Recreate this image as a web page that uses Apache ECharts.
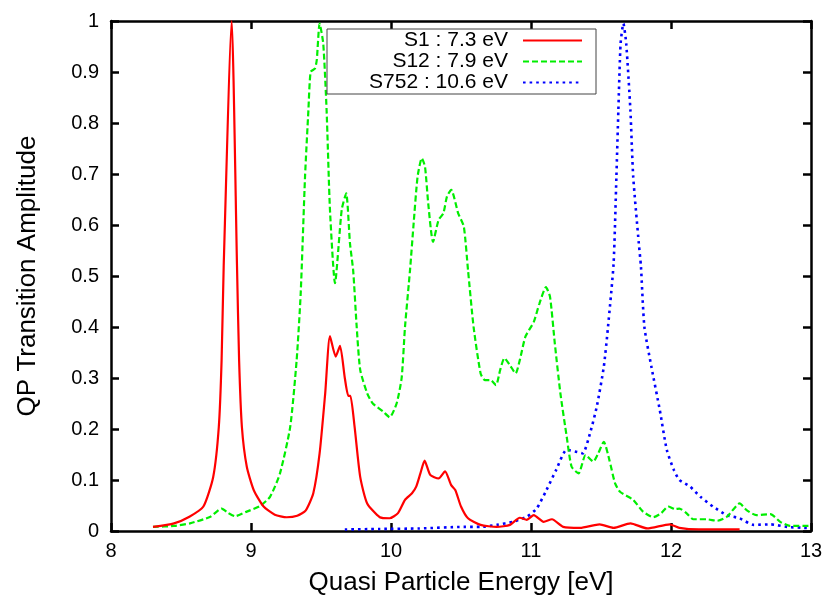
<!DOCTYPE html>
<html>
<head>
<meta charset="utf-8">
<script src="https://cdn.jsdelivr.net/npm/echarts@6/dist/echarts.min.js"></script>
<style>html,body{margin:0;padding:0;background:#fff}#c{width:827px;height:599px}</style>
</head>
<body>
<div id="c"></div>
<script>
const seriesNames = ['S1 : 7.3 eV', 'S12 : 7.9 eV', 'S752 : 10.6 eV'];
const xTicks = [8, 9, 10, 11, 12, 13];
const yTicks = [0, 0.1, 0.2, 0.3, 0.4, 0.5, 0.6, 0.7, 0.8, 0.9, 1];

const s1 = [[8.30,0.008],[8.45,0.015],[8.56,0.028],[8.66,0.048],[8.73,0.106],[8.77,0.204],[8.79,0.335],[8.805,0.52],[8.862,1.0],[8.90,0.52],[8.915,0.335],[8.935,0.204],[8.97,0.126],[9.02,0.08],[9.09,0.048],[9.17,0.032],[9.255,0.027],[9.33,0.03],[9.39,0.04],[9.445,0.074],[9.49,0.152],[9.53,0.27],[9.564,0.382],[9.605,0.342],[9.636,0.363],[9.67,0.30],[9.695,0.265],[9.71,0.265],[9.74,0.204],[9.78,0.106],[9.83,0.054],[9.92,0.027],[9.99,0.025],[10.05,0.035],[10.10,0.061],[10.15,0.074],[10.18,0.087],[10.21,0.113],[10.24,0.138],[10.28,0.11],[10.34,0.103],[10.386,0.117],[10.43,0.09],[10.46,0.08],[10.50,0.048],[10.55,0.025],[10.64,0.012],[10.755,0.008],[10.85,0.012],[10.92,0.026],[10.97,0.022],[11.02,0.031],[11.09,0.018],[11.15,0.023],[11.23,0.008],[11.35,0.006],[11.49,0.013],[11.59,0.006],[11.71,0.015],[11.83,0.005],[11.99,0.013],[12.06,0.006],[12.2,0.003],[12.49,0.003]];

const s12 = [[8.30,0.008],[8.45,0.01],[8.564,0.015],[8.71,0.028],[8.79,0.044],[8.84,0.035],[8.886,0.029],[8.97,0.038],[9.064,0.049],[9.136,0.067],[9.207,0.113],[9.28,0.204],[9.326,0.335],[9.355,0.466],[9.386,0.695],[9.41,0.825],[9.426,0.90],[9.457,0.907],[9.47,0.924],[9.49,0.995],[9.516,0.956],[9.54,0.825],[9.564,0.63],[9.60,0.486],[9.648,0.63],[9.68,0.662],[9.707,0.564],[9.73,0.51],[9.755,0.40],[9.78,0.316],[9.83,0.27],[9.87,0.25],[9.945,0.234],[9.99,0.223],[10.04,0.25],[10.076,0.30],[10.10,0.40],[10.136,0.512],[10.16,0.597],[10.19,0.695],[10.22,0.731],[10.243,0.714],[10.266,0.642],[10.30,0.567],[10.34,0.61],[10.374,0.623],[10.40,0.656],[10.43,0.669],[10.48,0.623],[10.52,0.597],[10.55,0.512],[10.59,0.40],[10.64,0.309],[10.67,0.296],[10.71,0.296],[10.75,0.286],[10.78,0.316],[10.81,0.339],[10.85,0.325],[10.89,0.309],[10.92,0.335],[10.96,0.381],[11.02,0.41],[11.06,0.446],[11.107,0.478],[11.136,0.459],[11.17,0.368],[11.21,0.27],[11.255,0.185],[11.29,0.126],[11.34,0.113],[11.39,0.149],[11.445,0.136],[11.48,0.152],[11.52,0.175],[11.56,0.139],[11.60,0.094],[11.636,0.077],[11.73,0.061],[11.80,0.038],[11.874,0.027],[11.93,0.035],[11.98,0.048],[12.03,0.043],[12.06,0.044],[12.11,0.035],[12.16,0.023],[12.255,0.023],[12.33,0.02],[12.40,0.028],[12.49,0.054],[12.54,0.041],[12.61,0.031],[12.71,0.033],[12.78,0.018],[12.85,0.01],[12.99,0.01]];

const s752 = [[9.67,0.003],[9.92,0.004],[10.2,0.005],[10.52,0.008],[10.64,0.008],[10.755,0.012],[10.87,0.018],[10.97,0.028],[11.04,0.044],[11.11,0.08],[11.18,0.12],[11.255,0.159],[11.33,0.155],[11.37,0.152],[11.42,0.19],[11.47,0.244],[11.52,0.322],[11.55,0.40],[11.59,0.525],[11.61,0.695],[11.624,0.825],[11.64,0.956],[11.66,0.995],[11.68,0.956],[11.71,0.825],[11.73,0.695],[11.77,0.564],[11.785,0.52],[11.81,0.40],[11.86,0.322],[11.92,0.237],[11.97,0.159],[12.02,0.12],[12.06,0.10],[12.136,0.087],[12.21,0.067],[12.30,0.048],[12.40,0.031],[12.49,0.025],[12.59,0.012],[12.71,0.013],[12.83,0.008],[12.97,0.006]];

const FONT = 'Liberation Sans';
const chart = echarts.init(document.getElementById('c'), null, {renderer: 'canvas'});

const axisLine = {show: true, onZero: false, lineStyle: {color: '#000', width: 2.5}};
const tick = {show: true, inside: true, length: 8, lineStyle: {color: '#000', width: 2.5}};

chart.setOption({
  animation: false,
  backgroundColor: '#fff',
  grid: {left: 111, right: 16, top: 21, bottom: 68, containLabel: false, outerBoundsMode: 'none'},
  legend: {
    orient: 'vertical',
    left: 327, top: 29,
    align: 'right',
    backgroundColor: '#fff',
    borderColor: '#444', borderWidth: 1, borderRadius: 0,
    padding: [1, 13, 1, 4],
    itemGap: 0,
    itemWidth: 59, itemHeight: 14,
    itemStyle: {opacity: 0, color: 'transparent', borderWidth: 0},
    data: seriesNames,
    formatter: n => '{t|' + n + '}',
    textStyle: {
      fontFamily: FONT, fontSize: 21, color: '#000',
      rich: {t: {width: 177, align: 'right', fontFamily: FONT, fontSize: 21, lineHeight: 21, color: '#000', padding: [0, 10, 0, 0]}}
    }
  },
  xAxis: [{
    type: 'value', min: xTicks[0], max: xTicks[xTicks.length - 1], interval: 1,
    name: 'Quasi Particle Energy [eV]', nameLocation: 'middle', nameGap: 39,
    nameTextStyle: {fontFamily: FONT, fontSize: 26, color: '#000'},
    axisLine, axisTick: tick,
    axisLabel: {fontFamily: FONT, fontSize: 20, color: '#000', margin: 10},
    splitLine: {show: false}
  }, {
    type: 'value', position: 'top', min: xTicks[0], max: xTicks[xTicks.length - 1], interval: 1,
    axisLine, axisTick: tick, axisLabel: {show: false}, splitLine: {show: false}
  }],
  yAxis: [{
    type: 'value', min: yTicks[0], max: yTicks[yTicks.length - 1], interval: 0.1,
    name: 'QP Transition Amplitude', nameLocation: 'middle', nameGap: 70,
    nameTextStyle: {fontFamily: FONT, fontSize: 26, color: '#000'},
    axisLine, axisTick: tick,
    axisLabel: {fontFamily: FONT, fontSize: 20, color: '#000', margin: 12},
    splitLine: {show: false}
  }, {
    type: 'value', position: 'right', min: yTicks[0], max: yTicks[yTicks.length - 1], interval: 0.1,
    axisLine, axisTick: tick, axisLabel: {show: false}, splitLine: {show: false}
  }],
  series: [
    {name: seriesNames[0], type: 'line', data: s1, symbol: 'none', smooth: 0.2, z: 4,
     lineStyle: {color: '#ff0000', width: 2.2, type: 'solid'}, itemStyle: {color: '#ff0000'}},
    {name: seriesNames[1], type: 'line', data: s12, symbol: 'none', smooth: 0.2, z: 3,
     lineStyle: {color: '#00ee00', width: 2.2, type: [6, 3]}, itemStyle: {color: '#00ee00'}},
    {name: seriesNames[2], type: 'line', data: s752, symbol: 'none', smooth: 0.2, z: 2,
     lineStyle: {color: '#0000ff', width: 2.6, type: [2.6, 4]}, itemStyle: {color: '#0000ff'}}
  ]
});
</script>
</body>
</html>
